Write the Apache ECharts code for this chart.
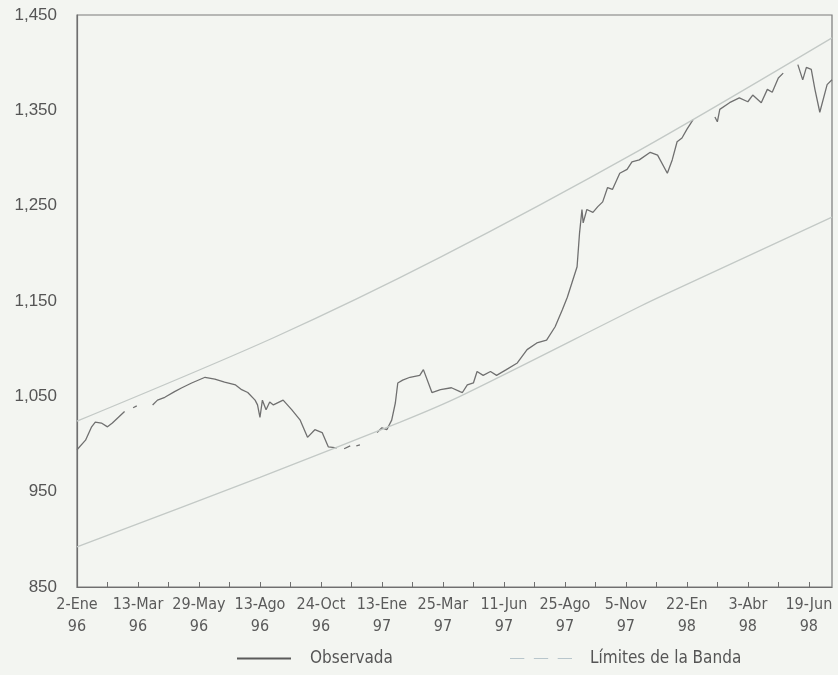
<!DOCTYPE html>
<html>
<head>
<meta charset="utf-8">
<script src="https://cdn.jsdelivr.net/npm/echarts@6/dist/echarts.min.js"></script>
<style>
  html, body { margin: 0; padding: 0; background: #f3f5f1; }
  #chart { width: 838px; height: 675px; }
</style>
</head>
<body>
<div id="chart"></div>
<script>
// eje x: dias habiles desde 2-Ene-96, etiquetas cada 50
var xLabels = ['2-Ene\n96', '13-Mar\n96', '29-May\n96', '13-Ago\n96', '24-Oct\n96', '13-Ene\n97',
    '25-Mar\n97', '11-Jun\n97', '25-Ago\n97', '5-Nov\n97', '22-En\n98', '3-Abr\n98', '19-Jun\n98'];
var yTicks = [850, 950, 1050, 1150, 1250, 1350, 1450];

// serie observada (null = hueco en la linea)
var obsDay = [0, 7, 12, 15, 20, 25, 29, 34, 39, 42, 46, 49, 52, 62, 66, 72, 80, 86, 94, 105, 113, 121, 130, 135,
    140, 146, 148, 150, 152, 155, 158, 161, 169, 176, 183, 189, 195, 201, 206, 213, 216, 219, 224, 227, 229, 232,
    236, 246, 250, 254, 258, 261, 263, 267, 273, 281, 284, 291, 298, 307, 314, 316, 320, 325, 328, 333, 339, 344,
    352, 361, 369, 377, 385, 392, 398, 402, 406, 410, 412, 414, 415, 418, 423, 427, 431, 435, 439, 445, 451, 455,
    461, 470, 476, 484, 488, 492, 496, 500, 505, 512, 523, 525, 527, 535, 543, 550, 554, 561, 566, 570, 575, 579,
    585, 591, 595, 598, 602, 605, 609, 615, 619];
var obsValue = [994, 1004, 1018, 1023, 1022, 1018, 1022, 1028, 1034, null, 1038, 1040, null, 1041, 1046, 1049, 1055,
    1059, 1064, 1070, 1068, 1065, 1062, 1057, 1054, 1046, 1041, 1028, 1046, 1036, 1044, 1041, 1046, 1036, 1025,
    1007, 1015, 1012, 997, 996, null, 995, 998, null, 998, 999, null, 1012, 1017, 1015, 1025, 1043, 1064, 1067,
    1070, 1072, 1078, 1054, 1057, 1059, 1055, 1054, 1062, 1064, 1076, 1072, 1076, 1072, 1078, 1085, 1099, 1106,
    1109, 1123, 1141, 1154, 1170, 1186, 1221, 1246, 1232, 1246, 1243, 1249, 1254, 1269, 1267, 1284, 1288, 1296,
    1298, 1306, 1303, 1284, 1298, 1317, 1321, 1330, 1340, null, 1343, 1338, 1351, 1358, 1363, 1359, 1366, 1358,
    1372, 1369, 1384, 1389, null, 1398, 1382, 1395, 1393, 1372, 1348, 1377, 1382];

// limites de la banda
var upperDay = [0, 162, 298, 461, 619];
var upperValue = [1024, 1112, 1196, 1308, 1426];
var lowerDay = [0, 150, 265, 314, 461, 484, 619];
var lowerValue = [892, 965, 1023, 1050, 1144, 1158, 1238];

function pairs(days, vals) {
    return days.map(function (d, i) { return [d, vals[i]]; });
}

var narrow = "'Liberation Sans Narrow', 'DejaVu Sans Condensed', sans-serif";
var bandColor = '#c3c9c6';

var chart = echarts.init(document.getElementById('chart'));
chart.setOption({
    backgroundColor: '#f3f5f1',
    animation: false,
    grid: {
        left: 77, right: 6, top: 15, bottom: 88,
        show: true, borderColor: '#7a7a7a', borderWidth: 1.2,
        outerBoundsMode: 'none'
    },
    xAxis: {
        type: 'value',
        min: 0, max: 619, interval: 25,
        splitLine: { show: false },
        axisLine: { lineStyle: { color: '#6f6f6f', width: 1.2 } },
        axisTick: { inside: true, length: 5, lineStyle: { color: '#6f6f6f' } },
        axisLabel: {
            margin: 7,
            color: '#5a5a5a',
            fontFamily: narrow,
            fontSize: 16,
            lineHeight: 22,
            showMaxLabel: false,
            formatter: function (v) {
                var k = Math.round(v);
                return k % 50 === 0 ? (xLabels[k / 50] || '') : '';
            }
        }
    },
    yAxis: {
        type: 'value',
        min: yTicks[0], max: yTicks[yTicks.length - 1], interval: 100,
        splitLine: { show: false },
        axisLine: { show: true, lineStyle: { color: '#6f6f6f', width: 1.2 } },
        axisTick: { show: false },
        axisLabel: {
            margin: 20,
            color: '#555',
            fontFamily: "'Liberation Sans', Arial, sans-serif",
            fontSize: 17,
            formatter: function (v) { return v.toLocaleString('en-US'); }
        }
    },
    legend: [{
        data: [{ name: 'Observada', icon: 'rect', itemStyle: { color: '#5a5a5a' } }],
        left: 237, top: 650, padding: 0,
        itemWidth: 54, itemHeight: 2,
        textStyle: { color: '#555', fontFamily: narrow, fontSize: 17, padding: [0, 0, 0, 14] }
    }, {
        data: [{
            name: 'Límites de la Banda',
            icon: 'path://M0,0h12v1h-12z M20,0h12v1h-12z M40,0h12v1h-12z',
            itemStyle: { color: '#b8c6cc' }
        }],
        left: 510, top: 650, padding: 0,
        itemWidth: 62, itemHeight: 2,
        textStyle: { color: '#555', fontFamily: narrow, fontSize: 17, padding: [0, 0, 0, 13] }
    }],
    series: [{
        name: 'Observada',
        type: 'line',
        symbol: 'none',
        connectNulls: false,
        data: pairs(obsDay, obsValue),
        lineStyle: { color: '#707070', width: 1.3 },
        itemStyle: { color: '#5a5a5a' },
        z: 3
    }, {
        name: 'Límites de la Banda',
        type: 'line',
        symbol: 'none',
        smooth: 0.3,
        data: pairs(upperDay, upperValue),
        lineStyle: { color: bandColor, width: 1.3 },
        itemStyle: { color: bandColor }
    }, {
        name: 'Límites de la Banda',
        type: 'line',
        symbol: 'none',
        smooth: 0.3,
        data: pairs(lowerDay, lowerValue),
        lineStyle: { color: bandColor, width: 1.3 },
        itemStyle: { color: bandColor }
    }]
});
</script>
</body>
</html>
